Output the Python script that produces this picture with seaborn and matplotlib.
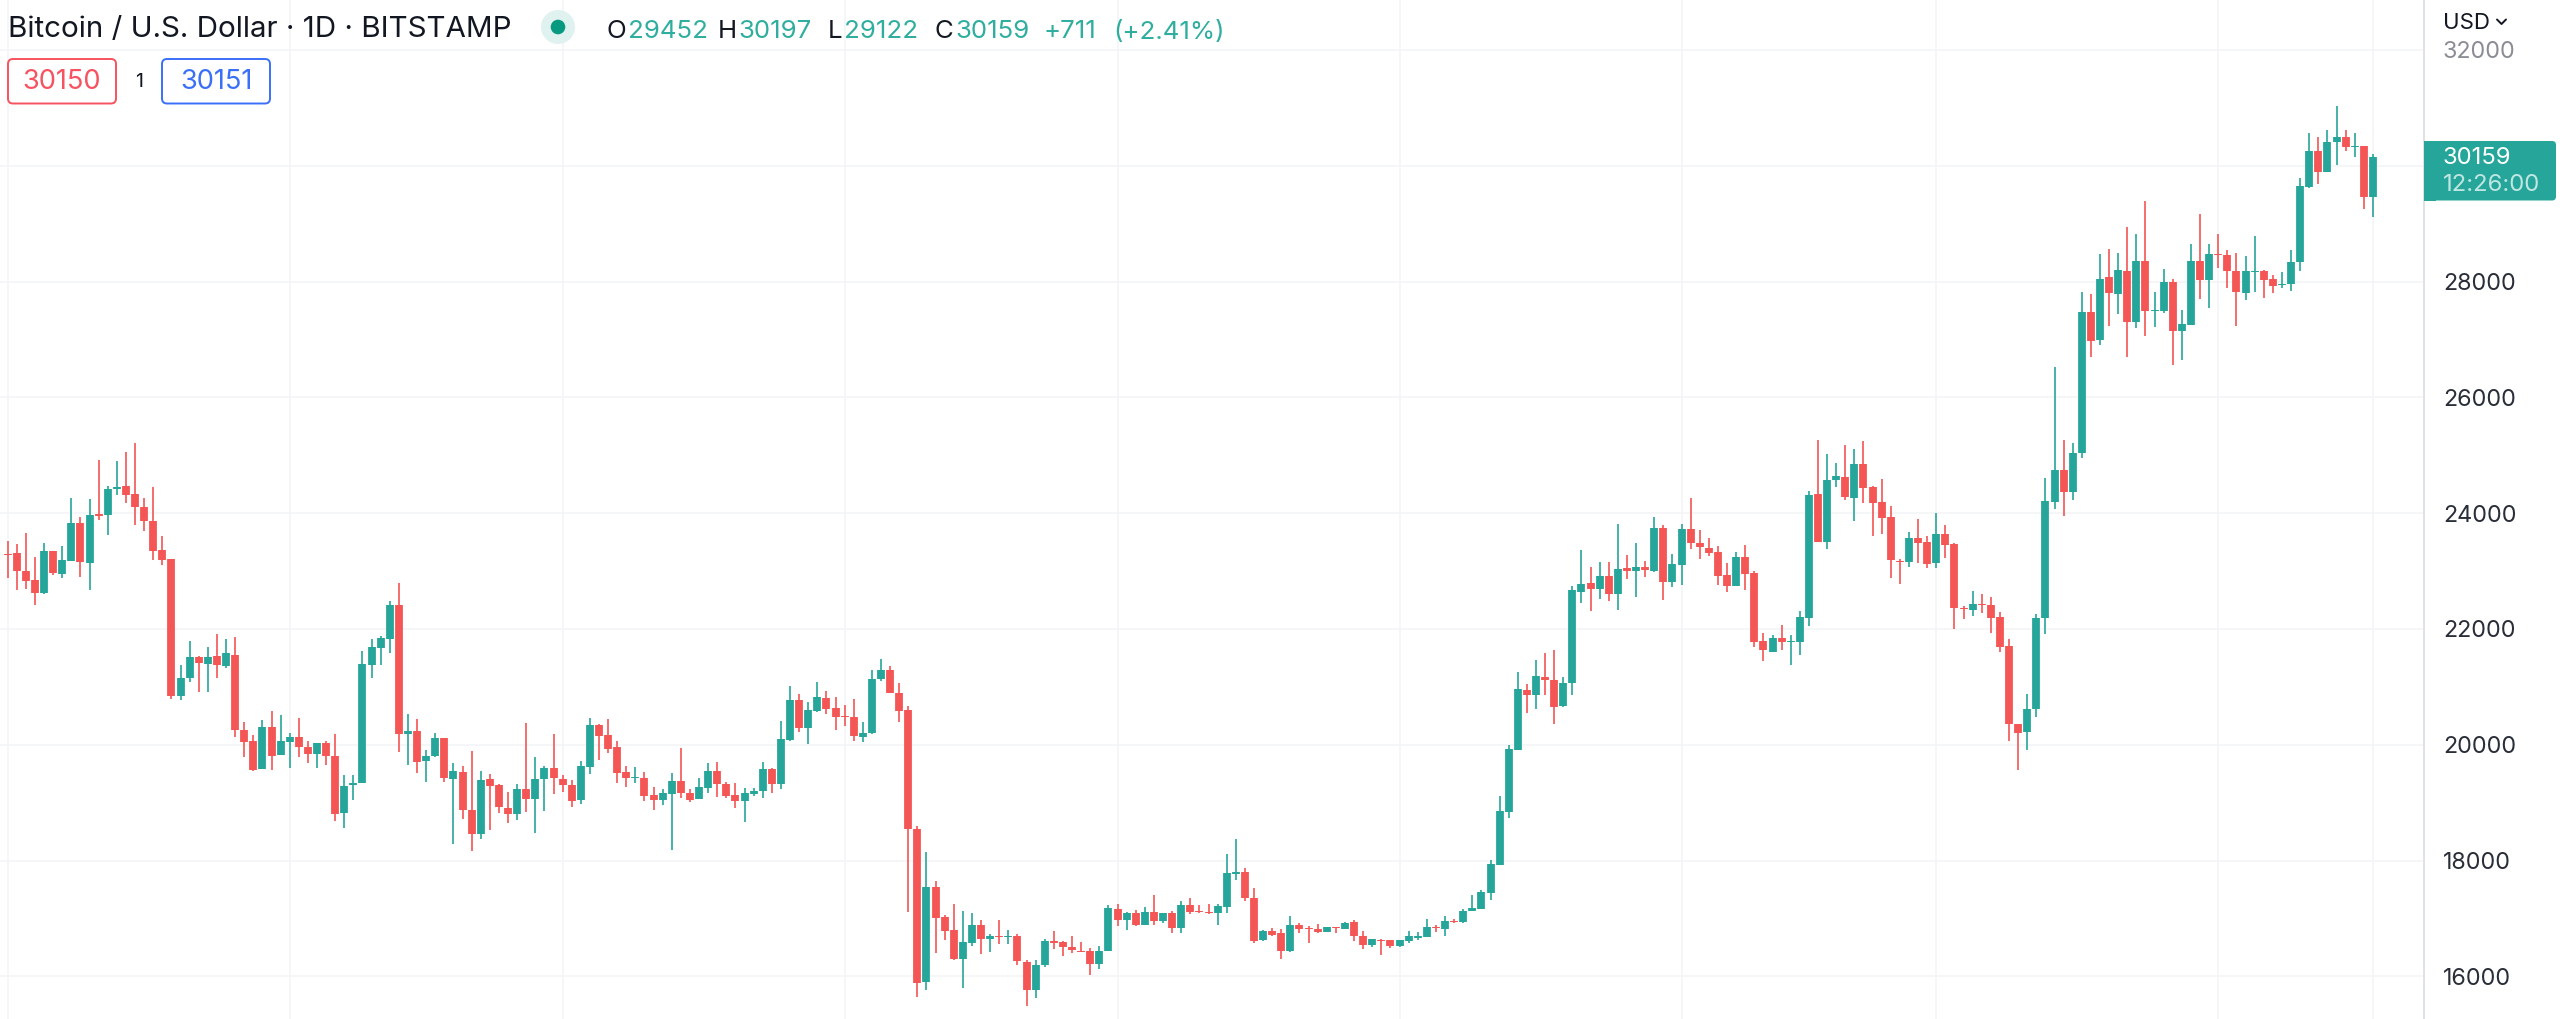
import numpy as np
import pandas as pd
import matplotlib
matplotlib.use("Agg")
import matplotlib.pyplot as plt
from matplotlib.patches import Circle, FancyBboxPatch, Rectangle
from matplotlib.lines import Line2D
from matplotlib.transforms import Affine2D
import seaborn as sns

START_DATE = "2022-07-31"

opens = [
    23655,23298,23304,23005,22839,22626,23339,22948,23178,23822,
    23143,23977,23960,24420,24472,24339,24104,23873,23356,23206,
    20849,21148,21522,21395,21539,21361,21556,20257,20061,19578,
    20308,19831,20050,20142,19958,19848,20027,19808,18819,19308,
    19331,21378,21665,21826,22407,20182,20239,19716,19797,20124,
    19402,19528,18879,18453,19413,19304,18907,18798,19229,19063,
    19402,19592,19413,19310,19045,19620,20345,20161,19960,19528,
    19425,19425,19126,19045,19155,19373,19172,19068,19252,19540,
    19327,19126,19034,19155,19201,19580,19321,20081,20771,20282,
    20581,20805,20627,20495,20472,20138,20196,21133,21288,20891,
    20592,18539,15894,17539,17033,16797,16291,16584,16878,16653,
    16694,16671,16694,16251,15756,16188,16602,16596,16510,16446,
    16429,16205,16435,17159,16970,17096,16889,17108,16952,17090,
    16843,17228,17136,17119,17090,17205,17775,17809,17361,16630,
    16780,16745,16429,16895,16837,16826,16768,16855,16820,16941,
    16705,16538,16636,16619,16521,16607,16665,16676,16860,16826,
    16964,16935,17125,17171,17447,17930,18838,19914,20952,20860,
    21171,21125,20665,21067,22643,22787,22689,22919,22608,23051,
    22994,23068,23005,23735,22804,23109,23718,23488,23402,23321,
    22936,22741,23235,22959,21786,21608,21849,21775,21775,22194,
    24334,23505,24575,24627,24253,24851,24449,24184,23931,23178,
    23155,23569,23500,23137,23632,23471,22361,22332,22436,22419,
    22200,21700,20366,20228,20613,22189,24201,24748,24357,25035,
    27470,26987,28085,27792,28183,27309,28350,27487,27487,27999,
    27142,27257,28350,28022,28482,28465,28183,27809,28172,28183,
    28045,27936,27953,28338,29638,30247,29896,30403,30500,30316,
    30334,29452,
]
highs = [
    23690,23517,23471,23655,23235,23488,23350,23425,24253,23937,
    24236,24920,24472,24903,25052,25219,24253,24454,23603,23206,
    21372,21792,21539,21688,21907,21821,21867,20389,20176,20423,
    20590,20510,20211,20458,20061,20038,20061,20193,19475,19475,
    21625,21821,21872,22488,22787,20538,20441,19912,20211,20124,
    19678,19632,19896,19546,19494,19316,19178,19316,20374,19781,
    19632,20178,19477,19390,19712,20460,20362,20443,20058,19632,
    19615,19523,19264,19235,19505,19942,19235,19425,19678,19695,
    19362,19344,19247,19247,19695,19597,20408,21012,20874,20742,
    21081,20926,20822,20679,20794,20391,21294,21478,21357,21058,
    20661,18597,18148,17642,17062,17246,17131,17090,16981,16734,
    16981,16797,16728,16280,16280,16648,16780,16607,16699,16596,
    16481,16527,17228,17246,17113,17148,17194,17412,17090,17131,
    17297,17361,17228,17257,17246,18114,18378,17867,17527,16797,
    16843,16814,17050,16929,16866,16912,16849,16855,16935,16970,
    16791,16653,16653,16636,16630,16791,16774,16987,16895,17039,
    16993,17171,17407,17499,18005,19120,20000,21254,21044,21458,
    21591,21642,21171,22735,23356,23068,23155,23155,23804,23270,
    23488,23172,23937,23787,23298,23804,24253,23701,23574,23425,
    23143,23321,23442,22999,21936,21890,22074,21890,22304,24374,
    25265,25018,24868,25179,25110,25242,24477,24598,24127,23206,
    23678,23896,23597,24000,23793,23482,22401,22649,22597,22551,
    22286,21832,20366,20883,22263,24615,26530,25265,25213,27821,
    27786,28470,28568,28499,28936,28815,29385,27821,28217,28051,
    27516,28649,29166,28649,28815,28551,28499,28447,28787,28200,
    28114,28166,28551,29781,30569,30500,30615,31035,30615,30569,
    30334,30197,
]
lows = [
    23258,22879,22678,22689,22413,22597,22930,22879,23178,22896,
    22678,23879,23626,24311,24178,23793,23689,23189,23109,20797,
    20780,21085,20912,20912,21159,21332,20136,19780,19544,19578,
    19567,19831,19601,19780,19687,19601,19647,18687,18566,19049,
    19331,21148,21378,21579,19883,19647,19515,19354,19780,19365,
    18286,18718,18171,18367,18534,18821,18654,18700,18833,18470,
    18850,19155,19183,18930,18982,19500,19730,19862,19333,19270,
    19333,19034,18867,18965,18189,19086,19005,19068,19166,19103,
    19086,18913,18672,19120,19086,19172,19235,20069,20213,20017,
    20569,20529,20247,20328,20069,20052,20184,21098,20897,20397,
    17119,15636,15756,16406,16619,16274,15791,16521,16389,16418,
    16550,16550,16188,15492,15618,16153,16469,16354,16406,16418,
    16015,16124,16435,16872,16803,16866,16889,16889,16918,16751,
    16740,17085,17096,17085,16889,17102,17671,17303,16584,16602,
    16688,16303,16423,16740,16584,16757,16768,16745,16809,16607,
    16469,16504,16360,16492,16510,16579,16625,16676,16774,16694,
    16918,16924,17125,17159,17326,17918,18735,19902,20544,20625,
    20860,20366,20659,20860,22442,22309,22522,22476,22327,22856,
    22545,22890,22976,22493,22723,22758,23373,23206,23252,22758,
    22637,22741,22672,21688,21441,21608,21642,21378,21556,22056,
    23505,23373,24454,24219,23873,24173,23603,23638,22873,22769,
    23068,23137,23051,23057,23218,22005,22171,22217,22269,21936,
    21608,20061,19572,19906,20475,21907,24069,23954,24230,24949,
    26705,26906,27240,27435,26694,27194,27056,27223,27453,26556,
    26653,27257,27706,27539,28240,27884,27240,27688,27826,27723,
    27803,27884,27838,28189,29620,29684,29885,30006,30253,30155,
    29252,29122,
]
closes = [
    23327,23275,23000,22827,22614,23339,22959,23189,23822,23160,
    23971,23954,24420,24449,24311,24109,23862,23344,23195,20849,
    21159,21522,21412,21522,21378,21591,20251,20050,19561,20308,
    19814,20073,20142,19963,19848,20027,19797,18802,19291,19337,
    21389,21688,21844,22407,20188,20239,19699,19808,20124,19417,
    19546,18873,18453,19390,19281,18919,18804,19229,19063,19413,
    19592,19419,19298,19034,19626,20339,20155,19931,19517,19419,
    19442,19120,19051,19160,19373,19172,19051,19264,19540,19321,
    19120,19034,19160,19206,19574,19321,20092,20771,20282,20592,
    20822,20621,20483,20472,20155,20207,21139,21288,20897,20587,
    18539,15877,17539,17004,16791,16303,16596,16878,16653,16694,
    16671,16694,16257,15756,16193,16607,16579,16504,16452,16423,
    16205,16429,17177,16970,17096,16883,17108,16952,17090,16843,
    17228,17113,17108,17090,17211,17780,17809,17355,16613,16786,
    16717,16441,16895,16820,16814,16768,16849,16832,16918,16694,
    16544,16642,16613,16527,16619,16688,16688,16855,16837,16952,
    16935,17136,17188,17453,17936,18861,19931,20960,20860,21194,
    21113,20648,21073,22672,22769,22695,22919,22608,23040,22994,
    23068,23011,23735,22810,23120,23718,23477,23408,23304,22907,
    22741,23235,22942,21775,21631,21849,21780,21798,22206,24322,
    23505,24581,24644,24282,24851,24437,24173,23919,23183,23155,
    23569,23488,23120,23632,23454,22355,22338,22430,22413,22189,
    21688,20360,20211,20619,22183,24213,24748,24357,25047,27470,
    26975,28045,27809,28200,27309,28350,27493,27510,27999,27142,
    27274,28350,28022,28482,28459,28177,27815,28183,28189,28033,
    27924,27964,28332,29643,30247,29885,30414,30500,30322,30339,
    29452,30159,
]
price_ticks = [16000,18000,20000,22000,24000,26000,28000,30000,32000]
hidden_tick = 30000  # covered by the last-price tag in the reference
month_ticks = ["2022-08-01","2022-09-01","2022-10-01","2022-11-01","2022-12-01",
               "2023-01-01","2023-02-01","2023-03-01","2023-04-01","2023-04-18"]
title = "Bitcoin / U.S. Dollar · 1D · BITSTAMP"
ohlc_letters = ["O", "H", "L", "C"]
ohlc_values = ["29452", "30197", "29122", "30159"]
change_text = "+711"
change_pct_text = "(+2.41%)"
bid_text, spread_text, ask_text = "30150", "1", "30151"
currency = "USD"
last_price_text, countdown_text = "30159", "12:26:00"

UP, DOWN = "#26a69a", "#f45555"
INK = "#131722"
GRID = "#f3f4f6"

sns.set_theme(style="white")
plt.rcParams["font.family"] = ["Inter", "DejaVu Sans"]

days = pd.date_range(START_DATE, periods=len(opens), freq="D")
df = pd.DataFrame({"day": days, "open": opens, "high": highs, "low": lows, "close": closes})
df["dir"] = np.where(df["close"] >= df["open"], "up", "down")
wicks = df.melt(id_vars=["day", "dir"], value_vars=["high", "low"], value_name="price")
bodies = df.melt(id_vars=["day", "dir"], value_vars=["open", "close"], value_name="price")

W, H = 2560, 1019
fig = plt.figure(figsize=(W / 100, H / 100), dpi=100, facecolor="white")
ax = fig.add_axes([0, 0, 2423.5 / W, 1])
ax.set_facecolor("white")

palette = {"up": UP, "down": DOWN}
for frame, lw in ((wicks, 1.2), (bodies, 5.6)):
    sns.lineplot(data=frame, x="day", y="price", hue="dir", units="day", estimator=None,
                 palette=palette, legend=False, linewidth=lw, solid_capstyle="butt",
                 ax=ax, zorder=3)

d0 = pd.Timestamp("2022-08-01")
ax.set_xlim(d0 - pd.Timedelta(days=0.846), d0 + pd.Timedelta(days=265.56))
ax.set_ylim(15263, 32863)
ax.set_xticks(pd.to_datetime(month_ticks))
ax.set_yticks(price_ticks)
ax.set_yticklabels(["" if v == hidden_tick else str(v) for v in price_ticks])
ax.set_xticklabels([])
ax.set_xlabel("")
ax.set_ylabel("")
ax.grid(True, color=GRID, linewidth=1.1)
ax.set_axisbelow(True)
ax.yaxis.tick_right()
ax.tick_params(axis="y", length=0, pad=14, labelsize=16.8, labelcolor="#2a2e39")
ax.tick_params(axis="x", length=0)
for lab, v in zip(ax.get_yticklabels(), price_ticks):
    if v == 32000:
        lab.set_color("#8a8d94")
for side in ("left", "top", "bottom"):
    ax.spines[side].set_visible(False)
ax.spines["right"].set_color("#e0e3e6")
ax.spines["right"].set_linewidth(1.4)

px = Affine2D().scale(1, -1).translate(0, H)


def label(x, y, s, size, color, ha="left", **kw):
    fig.text(x, y, s, transform=px, fontsize=size, color=color, ha=ha, va="center", **kw)


label(8, 30, title, 21.3, INK)
fig.add_artist(Circle((558, 27), 17, transform=px, facecolor="#e0f2ef", edgecolor="none"))
fig.add_artist(Circle((558, 27), 7.3, transform=px, facecolor="#089981", edgecolor="none"))

for x, s in zip((606, 718, 828, 934), ohlc_letters):
    label(x, 32, s, 18.6, INK)
for x, s in zip((628, 738, 844, 955), ohlc_values):
    label(x, 32, s, 18.6, "#2fae9f")
label(1044, 32, change_text, 18.6, "#2fae9f")
label(1113, 32, change_pct_text, 18.6, "#2fae9f")

for x0, col in ((8, "#f7525f"), (162, "#3a6ff7")):
    fig.add_artist(FancyBboxPatch((x0, 59), 108, 44.5, transform=px,
                                  boxstyle="round,pad=0,rounding_size=5",
                                  facecolor="white", edgecolor=col, linewidth=1.4))
label(62, 82, bid_text, 19.6, "#f7525f", ha="center")
label(216, 82, ask_text, 19.6, "#3a6ff7", ha="center")
label(139, 82, spread_text, 14, INK, ha="center")

label(2443, 23, currency, 16, INK)
fig.add_artist(Line2D([2497, 2501.5, 2506], [19.5, 24, 19.5], transform=px, color=INK, linewidth=1.4))

fig.add_artist(FancyBboxPatch((2424, 141), 132, 59.5, transform=px,
                              boxstyle="round,pad=0,rounding_size=4",
                              facecolor=UP, edgecolor="none"))
fig.add_artist(Rectangle((2424, 141), 12, 59.5, transform=px, facecolor=UP, edgecolor="none"))
label(2443, 158, last_price_text, 17.2, "white")
label(2443, 185, countdown_text, 17.2, "#bfe6e2")

fig.savefig("out.png", dpi=100, facecolor="white")
